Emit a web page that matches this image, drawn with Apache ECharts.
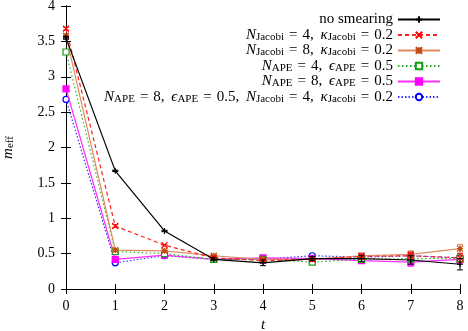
<!DOCTYPE html>
<html>
<head>
<meta charset="UTF-8">
<title>m_eff</title>
<script src="https://cdn.jsdelivr.net/npm/echarts@6/dist/echarts.min.js"></script>
<style>
    body { margin: 0; background: #fff; }
    #chart { width: 468px; height: 331px; }
</style>
</head>
<body>
<div id="chart"></div>
<script>
    var tValues = [0, 1, 2, 3, 4, 5, 6, 7, 8];
    var yTicks = [0, 0.5, 1, 1.5, 2, 2.5, 3, 3.5, 4];

    var noSmearing = [3.55, 1.67, 0.82, 0.42, 0.37, 0.43, 0.43, 0.41, 0.35];
    var noSmearingErr = [0.02, 0.01, 0.01, 0.02, 0.04, 0.03, 0.04, 0.06, 0.08];
    var jacobi4 = [3.68, 0.89, 0.62, 0.44, 0.40, 0.42, 0.46, 0.47, 0.44];
    var jacobi4Err = [0.02, 0.02, 0.01, 0.02, 0.02, 0.03, 0.04, 0.05, 0.06];
    var jacobi8 = [3.58, 0.55, 0.54, 0.47, 0.42, 0.42, 0.47, 0.49, 0.57];
    var jacobi8Err = [0.02, 0.02, 0.01, 0.02, 0.02, 0.03, 0.04, 0.05, 0.06];
    var ape4 = [3.35, 0.53, 0.50, 0.42, 0.42, 0.38, 0.42, 0.43, 0.43];
    var ape4Err = [0.02, 0.02, 0.01, 0.02, 0.02, 0.03, 0.03, 0.05, 0.05];
    var ape8 = [2.83, 0.42, 0.48, 0.42, 0.44, 0.43, 0.40, 0.38, 0.42];
    var ape8Err = [0.02, 0.02, 0.01, 0.02, 0.03, 0.03, 0.04, 0.06, 0.06];
    var apeJacobi = [2.68, 0.37, 0.47, 0.42, 0.42, 0.47, 0.45, 0.47, 0.44];
    var apeJacobiErr = [0.02, 0.02, 0.01, 0.02, 0.02, 0.03, 0.04, 0.05, 0.06];

    // TeX-like spacing around "=" and after commas
    var EQ = '\u2004=\u2004';
    var CM = ', \u2009';
    var names = [
        'no smearing',
        '{i|N}{s|Jacobi}{n|' + EQ + '4' + CM + '}{i|κ}{s|Jacobi}{n|' + EQ + '0.2}',
        '{i|N}{s|Jacobi}{n|' + EQ + '8' + CM + '}{i|κ}{s|Jacobi}{n|' + EQ + '0.2}',
        '{i|N}{s|APE}{n|' + EQ + '4' + CM + '}{i|ϵ}{s|APE}{n|' + EQ + '0.5}',
        '{i|N}{s|APE}{n|' + EQ + '8' + CM + '}{i|ϵ}{s|APE}{n|' + EQ + '0.5}',
        '{i|N}{s|APE}{n|' + EQ + '8' + CM + '}{i|ϵ}{s|APE}{n|' + EQ + '0.5' + CM + '}{i|N}{s|Jacobi}{n|' + EQ + '4' + CM + '}{i|κ}{s|Jacobi}{n|' + EQ + '0.2}'
    ];

    var serif = 'Liberation Serif';
    var rich = {
        n: { fontFamily: serif, fontSize: 15, color: '#000', lineHeight: 15 },
        i: { fontFamily: serif, fontSize: 15, fontStyle: 'italic', color: '#000', lineHeight: 15 },
        s: { fontFamily: serif, fontSize: 11, color: '#000', lineHeight: 8, verticalAlign: 'bottom' }
    };

    var styles = [
        { data: noSmearing, err: noSmearingErr, color: '#000000', mark: '#000000', type: 'solid', symbol: 'path://M0,-1L0,1M-1,0L1,0', filled: false },
        { data: jacobi4, err: jacobi4Err, color: '#ff2020', mark: '#ff0000', type: [4, 3], symbol: 'path://M-1,-1L1,1M-1,1L1,-1', filled: false },
        { data: jacobi8, err: jacobi8Err, color: '#e08a60', mark: '#c04a10', type: 'solid', symbol: 'path://M-1,-1L1,1M-1,1L1,-1M0,-1L0,1M-1,0L1,0', filled: false },
        { data: ape4, err: ape4Err, color: '#30b030', mark: '#10a010', type: [1.5, 2.5], symbol: 'rect', filled: false },
        { data: ape8, err: ape8Err, color: '#ff30ff', mark: '#ff00ff', type: 'solid', symbol: 'rect', filled: true },
        { data: apeJacobi, err: apeJacobiErr, color: '#3030ff', mark: '#0000ff', type: [1.5, 2], symbol: 'circle', filled: false }
    ];

    var series = [];
    styles.forEach(function (st, k) {
        series.push({
            name: names[k],
            type: 'line',
            data: st.data.map(function (v, j) { return [tValues[j], v]; }),
            symbol: st.symbol,
            symbolSize: 6,
            showAllSymbol: true,
            z: 10 - k,
            lineStyle: { color: st.color, width: 1.2, type: st.type },
            itemStyle: { color: st.filled ? st.mark : '#fff', borderColor: st.mark, borderWidth: 1.2 },
            emphasis: { disabled: true },
            animation: false
        });
        // error bars
        series.push({
            type: 'custom',
            z: 10 - k,
            silent: true,
            animation: false,
            data: st.data.map(function (v, j) { return [tValues[j], v, st.err[j]]; }),
            renderItem: function (params, api) {
                var x = api.value(0), y = api.value(1), e = api.value(2);
                var top = api.coord([x, y + e]);
                var bot = api.coord([x, y - e]);
                var style = { stroke: st.color, lineWidth: 1 };
                return {
                    type: 'group',
                    children: [
                        { type: 'line', shape: { x1: top[0], y1: top[1], x2: bot[0], y2: bot[1] }, style: style },
                        { type: 'line', shape: { x1: top[0] - 3, y1: top[1], x2: top[0] + 3, y2: top[1] }, style: style },
                        { type: 'line', shape: { x1: bot[0] - 3, y1: bot[1], x2: bot[0] + 3, y2: bot[1] }, style: style }
                    ]
                };
            }
        });
    });

    var chart = echarts.init(document.getElementById('chart'));
    chart.setOption({
        animation: false,
        grid: { left: 66, right: 8, top: 6, bottom: 42, outerBoundsMode: 'none', containLabel: false },
        legend: {
            data: names,
            orient: 'vertical',
            right: 22,
            top: 7,
            align: 'right',
            itemWidth: 42,
            itemHeight: 8,
            itemGap: 0.5,
            textStyle: { fontFamily: serif, fontSize: 15, color: '#000', rich: rich },
            selectedMode: false
        },
        xAxis: [{
            type: 'value',
            min: 0, max: 8, interval: 1,
            name: 't',
            nameLocation: 'middle',
            nameGap: 28,
            nameTextStyle: { fontFamily: serif, fontSize: 15, fontStyle: 'italic', color: '#000' },
            axisLine: { lineStyle: { color: '#000', width: 1 } },
            axisTick: { inside: true, length: 5, lineStyle: { color: '#000' } },
            axisLabel: { fontFamily: serif, fontSize: 14, color: '#000', margin: 10 },
            splitLine: { show: false }
        }, {
            type: 'value', position: 'top',
            min: 0, max: 8, interval: 1,
            axisLine: { show: true, lineStyle: { color: '#000', width: 1 } },
            axisTick: { inside: true, length: 5, lineStyle: { color: '#000' } },
            axisLabel: { show: false },
            splitLine: { show: false }
        }],
        yAxis: [{
            type: 'value',
            min: yTicks[0], max: yTicks[yTicks.length - 1], interval: 0.5,
            name: '{i|m}{s|eff}',
            nameLocation: 'middle',
            nameGap: 50,
            nameRotate: 90,
            nameTextStyle: { rich: rich },
            axisLine: { show: true, lineStyle: { color: '#000', width: 1 } },
            axisTick: { inside: true, length: 5, lineStyle: { color: '#000' } },
            axisLabel: { fontFamily: serif, fontSize: 14, color: '#000', margin: 11 },
            splitLine: { show: false }
        }, {
            type: 'value', position: 'right',
            min: yTicks[0], max: yTicks[yTicks.length - 1], interval: 0.5,
            axisLine: { show: true, lineStyle: { color: '#000', width: 1 } },
            axisTick: { inside: true, length: 5, lineStyle: { color: '#000' } },
            axisLabel: { show: false },
            splitLine: { show: false }
        }],
        series: series
    });
</script>
</body>
</html>
